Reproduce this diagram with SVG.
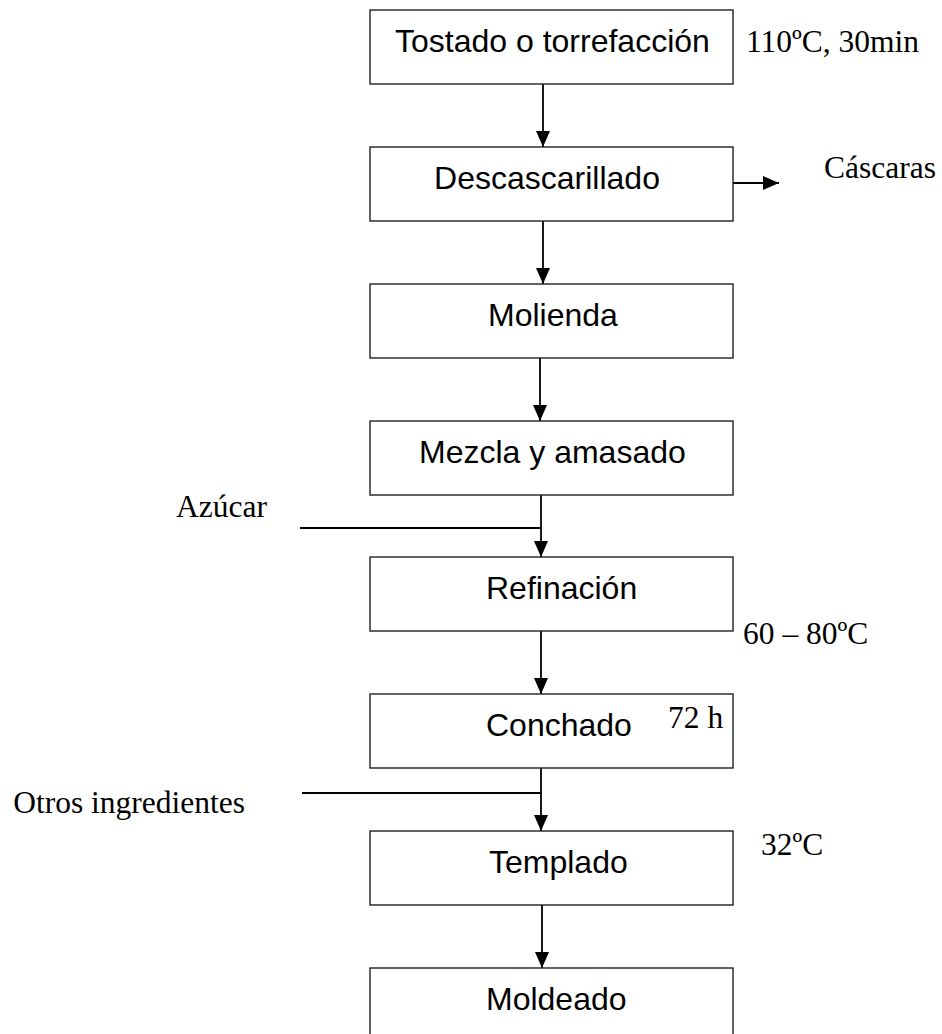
<svg xmlns="http://www.w3.org/2000/svg" width="942" height="1034" viewBox="0 0 942 1034">
<style>
.box{fill:#fff;stroke:#222;stroke-width:1.4}
.t{font-family:"Liberation Sans",Arial,sans-serif;font-size:32px;fill:#000}
.n{font-family:"Liberation Serif","Times New Roman",serif;font-size:31.5px;fill:#000}
.c{stroke:#000;stroke-width:1.8;fill:none}
</style>
<defs>
<marker id="ah" viewBox="0 0 16 14" refX="16" refY="7" markerWidth="16" markerHeight="14" markerUnits="userSpaceOnUse" orient="auto">
<path d="M0,0 L16,7 L0,14 z" fill="#000"/>
</marker>
</defs>
<rect width="942" height="1034" fill="#fff"/>
<g id="connectors">
<line class="c" x1="543" y1="84" x2="543" y2="147" marker-end="url(#ah)"/>
<line class="c" x1="733" y1="183" x2="779" y2="183" marker-end="url(#ah)"/>
<line class="c" x1="543" y1="221" x2="543" y2="284" marker-end="url(#ah)"/>
<line class="c" x1="540" y1="358" x2="540" y2="421" marker-end="url(#ah)"/>
<line class="c" x1="541" y1="495" x2="541" y2="557" marker-end="url(#ah)"/>
<line class="c" x1="300" y1="528" x2="541" y2="528"/>
<line class="c" x1="541" y1="631" x2="541" y2="694" marker-end="url(#ah)"/>
<line class="c" x1="541" y1="768" x2="541" y2="831" marker-end="url(#ah)"/>
<line class="c" x1="302" y1="793" x2="541" y2="793"/>
<line class="c" x1="542" y1="905" x2="542" y2="968" marker-end="url(#ah)"/>
</g>
<g id="n1"><rect class="box" x="370" y="10" width="363" height="74"/><text class="t" x="395" y="52">Tostado o torrefacción</text></g>
<g id="n2"><rect class="box" x="370" y="147" width="363" height="74"/><text class="t" x="547" y="189" text-anchor="middle">Descascarillado</text></g>
<g id="n3"><rect class="box" x="370" y="284" width="363" height="74"/><text class="t" x="488" y="326">Molienda</text></g>
<g id="n4"><rect class="box" x="370" y="421" width="363" height="74"/><text class="t" x="419" y="463">Mezcla y amasado</text></g>
<g id="n5"><rect class="box" x="370" y="557" width="363" height="74"/><text class="t" x="486" y="599">Refinación</text></g>
<g id="n6"><rect class="box" x="370" y="694" width="363" height="74"/><text class="t" x="486" y="736">Conchado</text><text class="n" x="668" y="728">72 h</text></g>
<g id="n7"><rect class="box" x="370" y="831" width="363" height="74"/><text class="t" x="489" y="873">Templado</text></g>
<g id="n8"><rect class="box" x="370" y="968" width="363" height="80"/><text class="t" x="486" y="1010">Moldeado</text></g>
<g id="labels">
<text class="n" x="746" y="52">110ºC, 30min</text>
<text class="n" x="824" y="178">Cáscaras</text>
<text class="n" x="267" y="517" text-anchor="end">Azúcar</text>
<text class="n" x="743" y="644">60 – 80ºC</text>
<text class="n" x="245" y="813" text-anchor="end">Otros ingredientes</text>
<text class="n" x="761" y="855">32ºC</text>
</g>
</svg>
